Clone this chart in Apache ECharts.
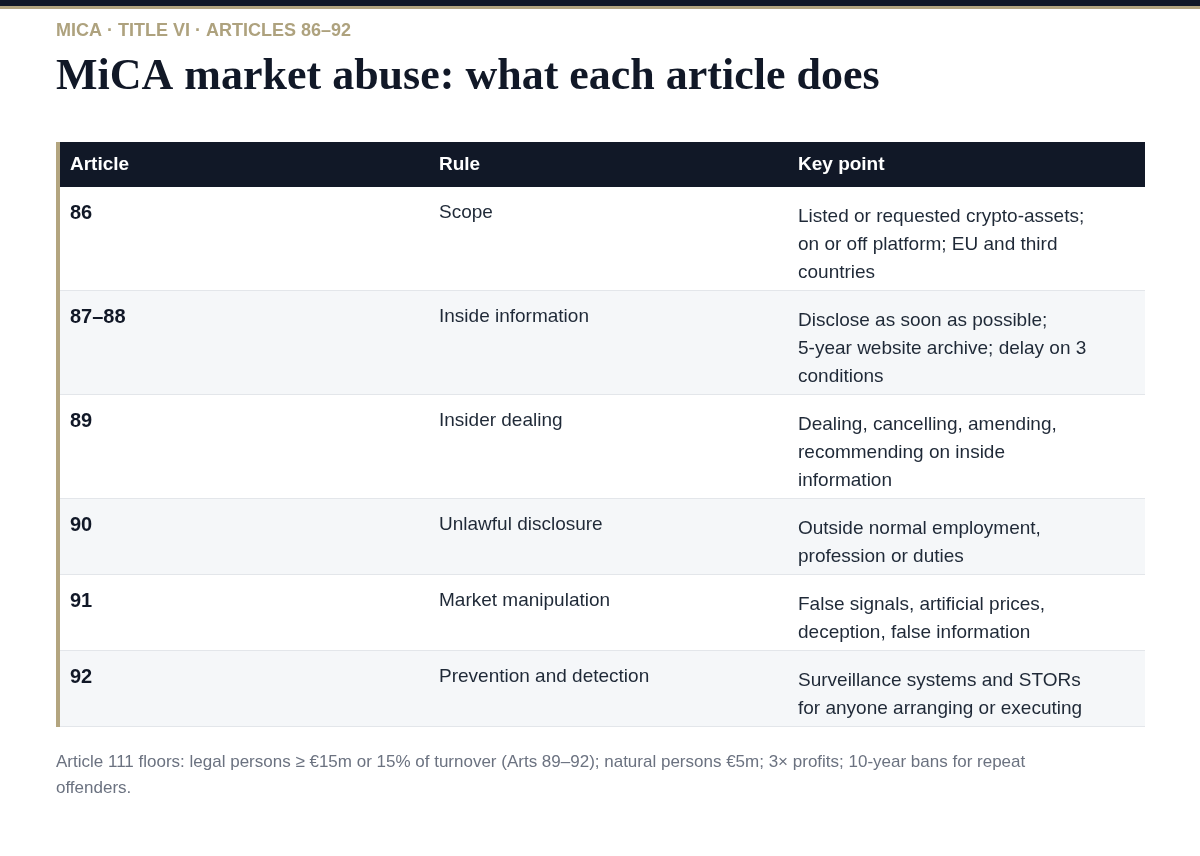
<!DOCTYPE html>
<html>
<head>
<meta charset="utf-8">
<script src="https://cdn.jsdelivr.net/npm/echarts@6/dist/echarts.min.js"></script>
<style>
  html, body { margin: 0; padding: 0; background: #fff; }
  #chart { width: 1200px; height: 856px; }
</style>
</head>
<body>
<div id="chart"></div>
<script>
const kicker = "MICA · TITLE VI · ARTICLES 86–92";
const title = "MiCA market abuse: what each article does";
const headers = ["Article", "Rule", "Key point"];
const articles = ["86", "87–88", "89", "90", "91", "92"];
const rules = ["Scope", "Inside information", "Insider dealing", "Unlawful disclosure", "Market manipulation", "Prevention and detection"];
const keyPoints = [
    ["Listed or requested crypto-assets;", "on or off platform; EU and third", "countries"],
    ["Disclose as soon as possible;", "5-year website archive; delay on 3", "conditions"],
    ["Dealing, cancelling, amending,", "recommending on inside", "information"],
    ["Outside normal employment,", "profession or duties"],
    ["False signals, artificial prices,", "deception, false information"],
    ["Surveillance systems and STORs", "for anyone arranging or executing"]
];
const footnote = ["Article 111 floors: legal persons ≥ €15m or 15% of turnover (Arts 89–92); natural persons €5m; 3× profits; 10-year bans for repeat", "offenders."];

const chart = echarts.init(document.getElementById("chart"));
const font = "'Liberation Sans', Arial, sans-serif";
const left = 56, right = 1145, headTop = 142, headH = 45, lineH = 28;
const colX = [70, 439, 798];
const els = [];

// top rule
els.push({ type: "rect", shape: { x: 0, y: 0, width: 1200, height: 6 }, style: { fill: "#111827" } });
els.push({ type: "rect", shape: { x: 0, y: 6, width: 1200, height: 3 }, style: { fill: "#b3a57f" } });

els.push({ type: "text", x: 56, y: 22, style: { text: kicker, font: "bold 18px " + font, fill: "#aea27e", letterSpacing: 2 } });
els.push({ type: "text", x: 56, y: 56, style: { text: title, font: "bold 44px 'Liberation Serif', 'DejaVu Serif', serif", fill: "#111827" } });

// header
els.push({ type: "rect", shape: { x: left, y: headTop, width: right - left, height: headH }, style: { fill: "#111827" } });
headers.forEach((h, i) => {
    els.push({ type: "text", x: colX[i], y: headTop + headH / 2, style: { text: h, font: "bold 19px " + font, fill: "#fff", verticalAlign: "middle" } });
});

// rows
let y = headTop + headH;
articles.forEach((a, i) => {
    const n = Math.max(keyPoints[i].length, 1);
    const h = n * lineH + 20;
    els.push({ type: "rect", shape: { x: left, y: y, width: right - left, height: h }, style: { fill: i % 2 ? "#f5f7f9" : "#fff" } });
    els.push({ type: "rect", shape: { x: left, y: y + h - 1, width: right - left, height: 1 }, style: { fill: "#e3e6ea" } });
    els.push({ type: "text", x: colX[0], y: y + 16, style: { text: a, font: "bold 20px " + font, fill: "#111827" } });
    els.push({ type: "text", x: colX[1], y: y + 16, style: { text: rules[i], font: "19px " + font, fill: "#1f2937" } });
    els.push({ type: "text", x: colX[2], y: y + 16, style: { text: keyPoints[i].join("\n"), font: "19px " + font, fill: "#1f2937", lineHeight: lineH } });
    y += h;
});
// left accent
els.push({ type: "rect", shape: { x: left, y: headTop, width: 4, height: y - headTop }, style: { fill: "#b3a57f" } });

els.push({ type: "text", x: 56, y: y + 22, style: { text: footnote.join("\n"), font: "17px " + font, fill: "#6b7280", lineHeight: 26 } });

chart.setOption({ backgroundColor: "#fff", graphic: { elements: els } });
</script>
</body>
</html>
